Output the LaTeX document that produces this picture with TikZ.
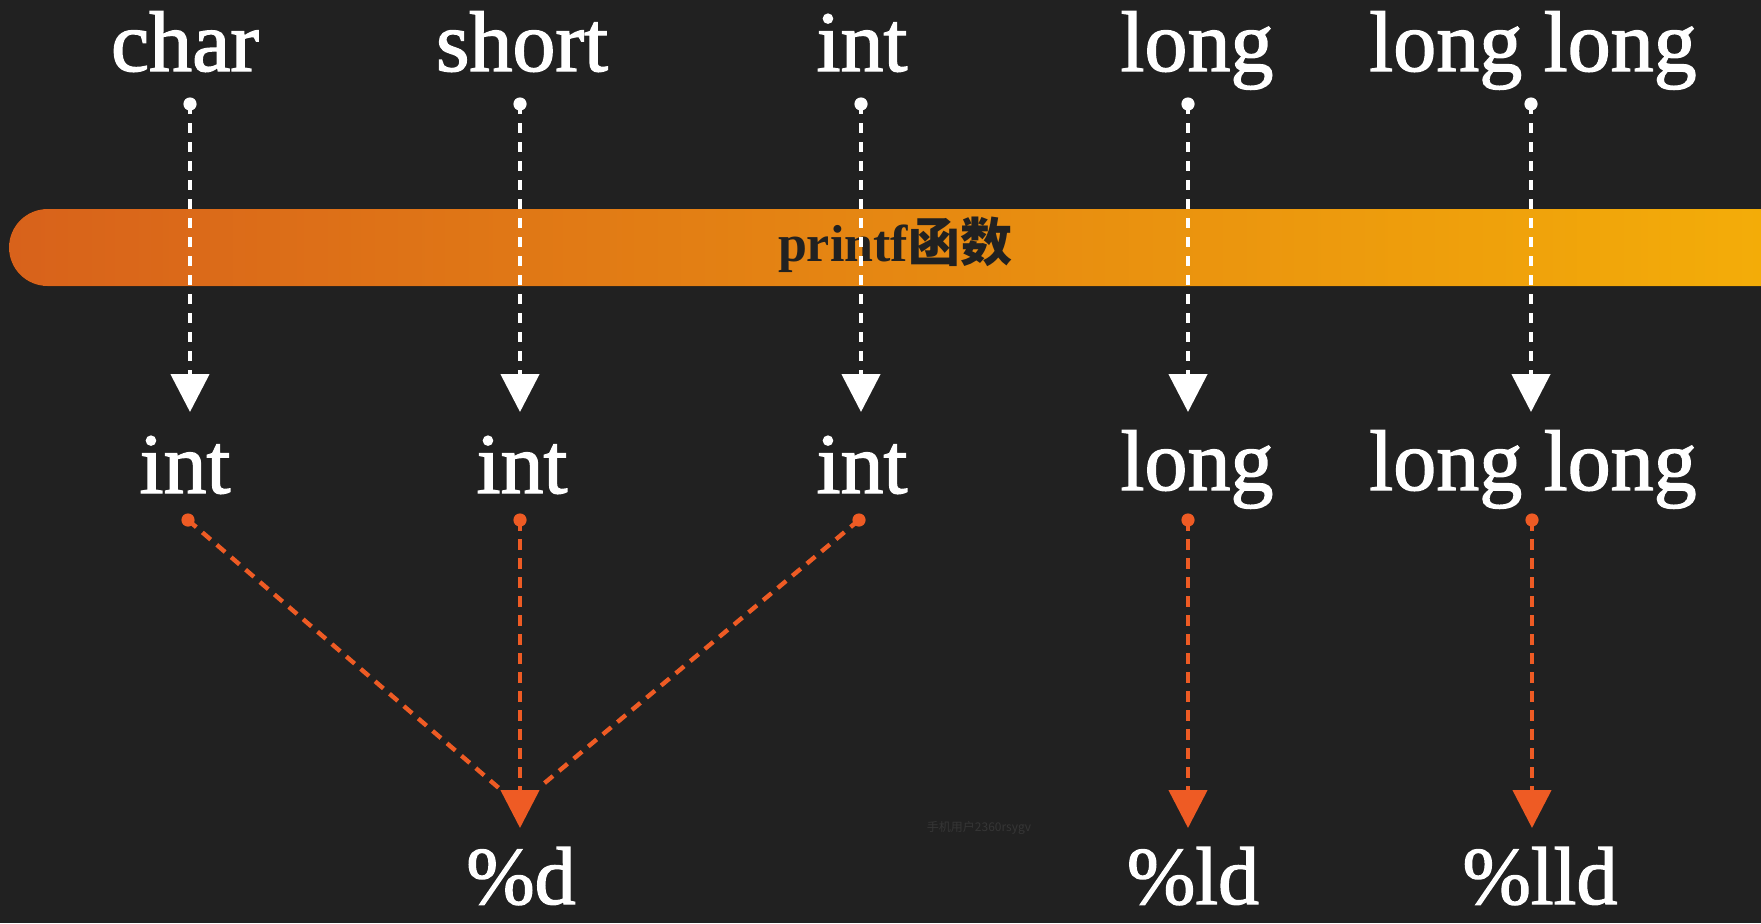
\documentclass[tikz,border=0pt]{standalone}
\usepackage{fontspec}
\setmainfont{Liberation Serif}
\newfontfamily\lblfont[FakeBold=1.6]{Liberation Serif}
\newfontfamily\cjkfont{Noto Sans CJK SC}
\usetikzlibrary{arrows.meta}
\definecolor{bg}{HTML}{212121}
\definecolor{barL}{HTML}{D8621B}
\definecolor{barR}{HTML}{F4AE08}
\definecolor{orng}{HTML}{EE5B24}
\definecolor{wm}{HTML}{363636}
\begin{document}
\begin{tikzpicture}[x=0.5pt,y=-0.5pt,
  lbl/.style={anchor=base,inner sep=0pt,text=white,font=\lblfont\fontsize{43pt}{50pt}\selectfont},
  blbl/.style={lbl,font=\lblfont\fontsize{41pt}{48pt}\selectfont},
  wconn/.style={draw=white,line width=2.3pt,dash pattern=on 5pt off 4.5pt,
     -{Triangle[width=19pt,length=19pt]}},
  oconn/.style={draw=orng,line width=2.2pt,dash pattern=on 5.5pt off 4pt},
  oarrow/.style={oconn,-{Triangle[width=19pt,length=19pt]}},
  wdot/.style={fill=white},
  odot/.style={fill=orng}]
\fill[bg] (0,0) rectangle (1761,923);
\useasboundingbox (0,0) rectangle (1761,923);
% bar
\fill[left color=barL,right color=barR,rounded corners=19.25pt] (9,209) rectangle (1800,286);
\node[anchor=base,inner sep=0pt,text=bg,font=\fontsize{26pt}{30pt}\selectfont\bfseries] (bar) at (895,261) {printf{\cjkfont 函数}};
% top labels
\node[lbl] (t1) at (185,71) {char};
\node[lbl] (t2) at (522,71) {short};
\node[lbl] (t3) at (862,71) {int};
\node[lbl] (t4) at (1197,71) {long};
\node[lbl] (t5) at (1533,71) {long long};
% middle labels
\node[lbl] (m1) at (185,493) {int};
\node[lbl] (m2) at (522,493) {int};
\node[lbl] (m3) at (862,493) {int};
\node[lbl] (m4) at (1197,490) {long};
\node[lbl] (m5) at (1533,490) {long long};
% bottom labels
\node[blbl] (b1) at (521,904) {\%d};
\node[blbl] (b2) at (1193,904) {\%ld};
\node[blbl] (b3) at (1540,904) {\%lld};
% coordinates
\coordinate (t1s) at (190,104);
\coordinate (t2s) at (520,104);
\coordinate (t3s) at (861,104);
\coordinate (t4s) at (1188,104);
\coordinate (t5s) at (1531,104);
\coordinate (m1e) at (190,412);
\coordinate (m2e) at (520,412);
\coordinate (m3e) at (861,412);
\coordinate (m4e) at (1188,412);
\coordinate (m5e) at (1531,412);
\coordinate (m1s) at (188,520);
\coordinate (m2s) at (520,520);
\coordinate (m3s) at (859,520);
\coordinate (m4s) at (1188,520);
\coordinate (m5s) at (1532,520);
\coordinate (b1e) at (520,828);
\coordinate (b1l) at (500,789);
\coordinate (b1r) at (541,786);
\coordinate (b2e) at (1188,828);
\coordinate (b3e) at (1532,828);
% white connectors
\foreach \i in {1,...,5}{
  \draw[wconn] (t\i s) -- (m\i e);
  \fill[wdot] (t\i s) circle (3.3pt);
}
% orange connectors
\draw[oconn] (m1s) -- (b1l);
\draw[oconn] (m3s) -- (b1r);
\draw[oarrow] (m2s) -- (b1e);
\draw[oarrow] (m4s) -- (b2e);
\draw[oarrow] (m5s) -- (b3e);
\foreach \i in {1,...,5}{
  \fill[odot] (m\i s) circle (3.3pt);
}
% watermark
\node[text=wm,font=\cjkfont\fontsize{6pt}{7pt}\selectfont,inner sep=0pt] (wmk) at (979,828) {手机用户2360rsygv};
\end{tikzpicture}
\end{document}
